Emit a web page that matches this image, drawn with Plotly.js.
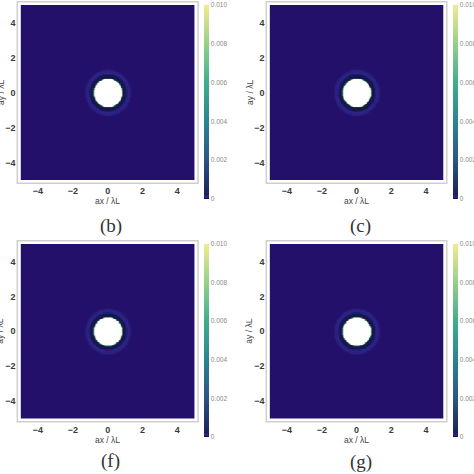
<!DOCTYPE html>
<html><head><meta charset="utf-8">
<script src="https://cdn.plot.ly/plotly-3.0.1.min.js"></script>
<style>html,body{margin:0;padding:0;background:#fff;overflow:hidden}</style>
</head><body><div id="chart" style="width:474px;height:474px"></div>
<script>
// ---- data ----
const panelLabels = ['(b)', '(c)', '(f)', '(g)'];
// radial intensity profile (radius in units of λL, intensity), same look in all four panels
const radiusSamples    = [0,    0.70, 0.75,  0.78,  0.80,  0.82,  0.84,   0.86, 1.00, 1.04,    1.10,    1.20,    1.30,    1.36];
const intensitySamples = [0.05, 0.03, 0.016, 0.011, 0.007, 0.003, 0.0007, 0.0,  0.0,  0.00006, 0.00009, 0.00008, 0.00005, 0.00004];
const axisTickVals = [-4, -2, 0, 2, 4];
const colorbarTickVals = [0, 0.002, 0.004, 0.006, 0.008, 0.010];
const colorbarTickText = ['0', '0.002', '0.004', '0.006', '0.008', '0.010'];
const zMin = 0, zMax = 0.01;
const xLabel = 'ax / λL', yLabel = 'ay / λL';

// ---- grid of positions for the density map ----
const gridStep = 0.04, gridHalf = 5;
const gridCoords = [];
for (let v = -gridHalf; v <= gridHalf + 1e-9; v += gridStep) gridCoords.push(+v.toFixed(4));

function lookup(r) {
  let idx = 0;
  for (let i = 0; i < radiusSamples.length; i++) if (radiusSamples[i] <= r) idx = i;
  return intensitySamples[idx];
}
const zGrid = gridCoords.map(y => gridCoords.map(x => lookup(Math.hypot(x, y))));

const colorscale = [
  [0, '#15174c'], [0.004, '#23106b'], [0.009, '#2b2484'], [0.013, '#2a2a80'], [0.02, '#1c2258'],
  [0.2, '#2c5488'], [0.4, '#2a8590'], [0.6, '#3fae8c'], [0.8, '#96d08a'], [1, '#f0ec8e']
];
// values above the plot range are drawn white (clipped)
const clipScale = [[0, 'rgba(255,255,255,0)'], [1, 'rgba(255,255,255,1)']];

const W = 474, H = 474;
const px = v => v / W, py = v => (H - v) / H;
const panelBoxes = [
  {l: 20.7, r: 196.0, t: 5.0,   b: 180.0, cbx: 205.5, cbt: 5,   cbb: 199, lx: 112,   ly: 226},
  {l: 271.3, r: 446.3, t: 5.0,  b: 180.0, cbx: 455.7, cbt: 5,   cbb: 199, lx: 362.5, ly: 226},
  {l: 20.7, r: 196.0, t: 244.0, b: 418.5, cbx: 205.5, cbt: 244, cbb: 437, lx: 111,   ly: 461},
  {l: 271.3, r: 446.3, t: 244.0, b: 418.5, cbx: 455.7, cbt: 244, cbb: 437, lx: 363,   ly: 462}
];

const traces = [], shapes = [], annotations = [];
const layout = {
  width: W, height: H, margin: {l: 0, r: 0, t: 0, b: 0},
  paper_bgcolor: '#ffffff', plot_bgcolor: '#ffffff', showlegend: false
};
const tickFont = {family: 'Liberation Sans, Arial, sans-serif', size: 9, color: '#3a3a3a', weight: 'bold'};
const titleFont = {family: 'Liberation Sans, Arial, sans-serif', size: 8.5, color: '#444'};

panelBoxes.forEach((p, i) => {
  const n = i === 0 ? '' : String(i + 1);
  traces.push({
    type: 'heatmap', x: gridCoords, y: gridCoords, z: zGrid,
    xaxis: 'x' + n, yaxis: 'y' + n,
    zmin: zMin, zmax: zMax, colorscale: colorscale, zsmooth: 'best', hoverinfo: 'skip',
    colorbar: {
      x: px(p.cbx), xanchor: 'left', xpad: 0, ypad: 0,
      y: py(p.cbt), yanchor: 'top', len: p.cbb - p.cbt, lenmode: 'pixels',
      thickness: 4.5, thicknessmode: 'pixels', outlinewidth: 0,
      tickvals: colorbarTickVals, ticktext: colorbarTickText, ticks: '',
      tickfont: {family: 'Liberation Sans, Arial, sans-serif', size: 6.5, color: '#888'}
    }
  });
  traces.push({
    type: 'heatmap', x: gridCoords, y: gridCoords, z: zGrid,
    xaxis: 'x' + n, yaxis: 'y' + n,
    zmin: zMax, zmax: zMax * 1.4, colorscale: clipScale, zsmooth: 'best',
    showscale: false, hoverinfo: 'skip'
  });
  layout['xaxis' + n] = {
    domain: [px(p.l), px(p.r)], anchor: 'y' + n, range: [-5, 5],
    tickvals: axisTickVals, showgrid: false, zeroline: false, showline: false,
    ticks: '', ticklabelstandoff: 4, tickfont: tickFont
  };
  layout['yaxis' + n] = {
    domain: [py(p.b), py(p.t)], anchor: 'x' + n, range: [-5, 5],
    tickvals: axisTickVals, showgrid: false, zeroline: false, showline: false,
    ticks: '', ticklabelstandoff: 4, tickfont: tickFont
  };
  shapes.push({
    type: 'rect', xref: 'paper', yref: 'paper',
    x0: px(p.l - 3.3), x1: px(p.r + 3.3), y0: py(p.b + 3.3), y1: py(p.t - 3.3),
    line: {color: '#cfcfcf', width: 1.5}, fillcolor: 'rgba(0,0,0,0)', layer: 'below'
  });
  // axis titles
  annotations.push({
    text: xLabel, xref: 'paper', yref: 'paper', x: px((p.l + p.r) / 2), y: py(p.b + 21),
    xanchor: 'center', yanchor: 'middle', showarrow: false, font: titleFont
  });
  annotations.push({
    text: yLabel, xref: 'paper', yref: 'paper', x: px(p.l - 20.3), y: py((p.t + p.b) / 2),
    xanchor: 'center', yanchor: 'middle', showarrow: false, textangle: -90, font: titleFont
  });
  annotations.push({
    text: panelLabels[i], xref: 'paper', yref: 'paper', x: px(p.lx), y: py(p.ly),
    xanchor: 'center', yanchor: 'middle', showarrow: false,
    font: {family: 'Liberation Serif, DejaVu Serif, serif', size: 19, color: '#333'}
  });
});
layout.shapes = shapes;
layout.annotations = annotations;

Plotly.newPlot('chart', traces, layout, {staticPlot: true, displayModeBar: false});
</script>
</body></html>
